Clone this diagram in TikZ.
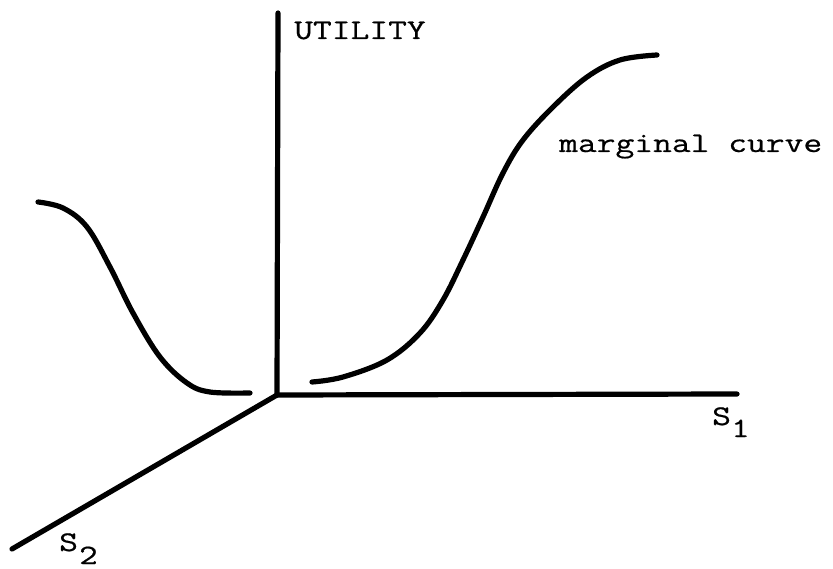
\documentclass[tikz,border=0pt]{standalone}
\usepackage{fontspec}
\newfontfamily\twfont{Latin Modern Mono}[FakeStretch=1.28,FakeBold=0.6]
\begin{document}
\begin{tikzpicture}[x=1pt,y=-1pt,
  axis/.style={line width=5.2pt,line cap=round},
  curve/.style={line width=5.2pt,line cap=round,line join=round},
  lbl/.style={inner sep=0pt,anchor=base west,font=\twfont\fontsize{28.5}{28.5}\selectfont},
  sub/.style={inner sep=0pt,anchor=base west,font=\twfont\fontsize{28}{28}\selectfont}]
\useasboundingbox (0,0) rectangle (833,569);
\coordinate (O) at (277,395);
\coordinate (top) at (278,13);
\coordinate (xend) at (737,394);
\coordinate (zend) at (12,549);
\draw[axis] (O) -- (top);
\draw[axis] (O) -- (xend);
\draw[axis] (O) -- (zend);
\draw[curve] plot[smooth,tension=0.6] coordinates {(312,382) (343,377) (387,360) (420,333) (443,300) (463,260) (483,217) (503,173) (523,140) (553,107) (587,77) (620,60) (657,55)};
\draw[curve] plot[smooth,tension=0.6] coordinates {(38,202) (63,208) (87,227) (110,267) (133,313) (160,357) (187,383) (210,392) (250,393)};
\node[lbl] (util) at (294,39) {UTILITY};
\node[lbl] (marg) at (559,152) {marginal curve};
\node[lbl] (s1) at (712,425) {S};
\node[sub] (s1i) at (731,437) {1};
\node[lbl] (s2) at (59,551) {S};
\node[sub] (s2i) at (79,564) {2};
\end{tikzpicture}
\end{document}
